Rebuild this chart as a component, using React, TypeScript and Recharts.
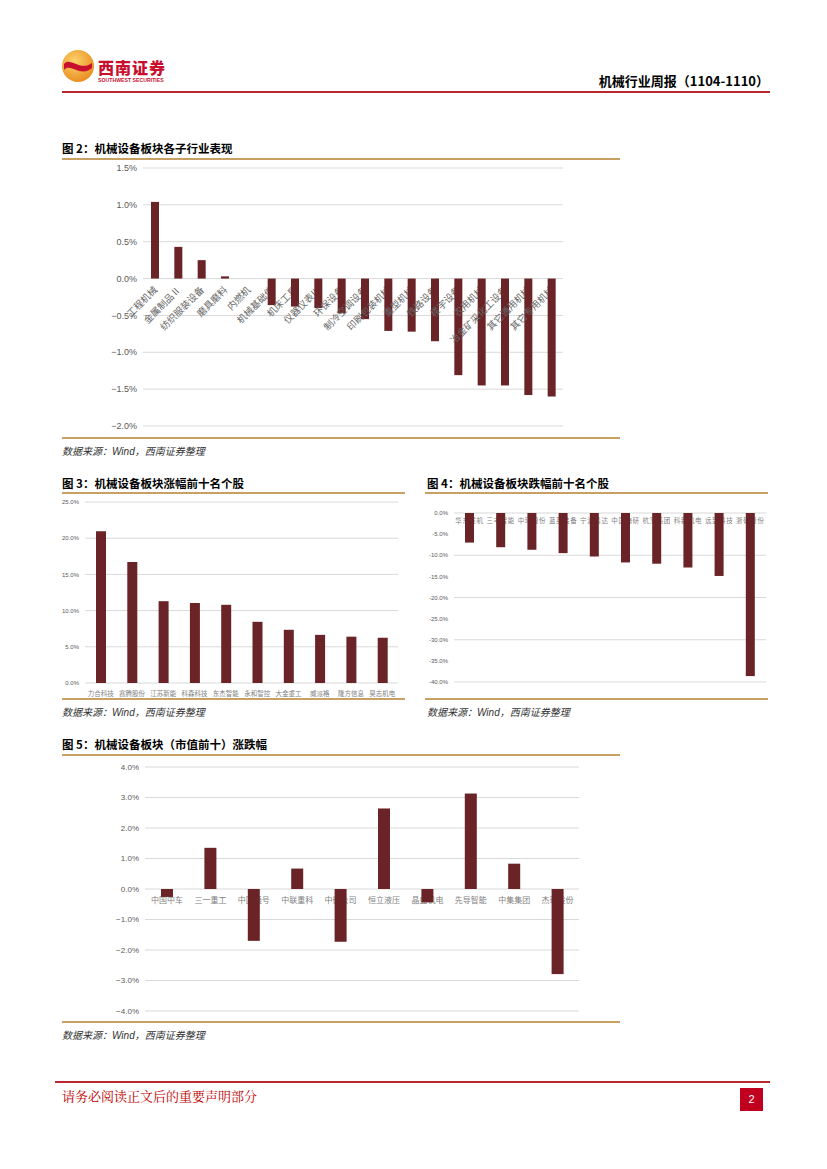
import React from "react";
import { Bar, BarChart, CartesianGrid, XAxis, YAxis } from "recharts";

// 图2 子行业
const subIndustries = ["工程机械", "金属制品Ⅱ", "纺织服装设备", "磨具磨料", "内燃机", "机械基础件", "机床工具", "仪器仪表Ⅲ", "环保设备", "制冷空调设备", "印刷包装机械", "重型机械", "铁路设备", "楼宇设备", "农用机械", "冶金矿采化工设备", "其它通用机械", "其它专用机械"];
const subIndustryChg = [1.04, 0.43, 0.25, 0.03, 0.0, -0.36, -0.38, -0.4, -0.47, -0.55, -0.71, -0.72, -0.85, -1.31, -1.45, -1.45, -1.58, -1.6];
const subTicks = [-2, -1.5, -1, -0.5, 0, 0.5, 1, 1.5];

// 图3 涨幅前十
const gainers = ["力合科技", "赛腾股份", "江苏新能", "科森科技", "东杰智能", "永和智控", "大金重工", "威派格", "隆方信息", "昊志机电"];
const gainerChg = [20.95, 16.7, 11.3, 11.05, 10.8, 8.45, 7.35, 6.65, 6.4, 6.25];
const gainTicks = [0, 5, 10, 15, 20, 25];

// 图4 跌幅前十
const losers = ["华东重机", "三丰智能", "中环股份", "蓝英装备", "宁波精达", "中国海研", "杭叉集团", "科新机电", "远望科技", "浙矿股份"];
const loserChg = [-7.0, -8.1, -8.7, -9.5, -10.3, -11.7, -12.0, -12.9, -14.9, -38.6];
const loseTicks = [-40, -35, -30, -25, -20, -15, -10, -5, 0];

// 图5 市值前十
const topCaps = ["中国中车", "三一重工", "中国通号", "中联重科", "中微公司", "恒立液压", "晶盛机电", "先导智能", "中集集团", "杰瑞股份"];
const topCapChg = [-0.26, 1.35, -1.7, 0.67, -1.73, 2.64, -0.44, 3.13, 0.83, -2.79];
const capTicks = [-4, -3, -2, -1, 0, 1, 2, 3, 4];

const BAR = "#6A2326";
const GRID = "#D9D9D9";
const TAN = "#C9A064";
const TICK = "#595959";
const CJK = '"Noto Sans CJK SC", sans-serif';

const toRows = (names: string[], vals: number[]) => names.map((name, i) => ({ name, value: vals[i] }));
const pct = (v: number) => (v < 0 ? "−" : "") + Math.abs(v).toFixed(1) + "%";
const pctDash = (v: number) => (v < 0 ? "-" : "") + Math.abs(v).toFixed(1) + "%";

// bar with its category label drawn at the zero line (label sits under the bar)
const ZeroLabelBar = (p: any) => {
  const { x, y, width, height, payload, mode } = p;
  const top = Math.min(y, y + height);
  const bottom = Math.max(y, y + height);
  const zero = payload.value >= 0 ? bottom : top;
  const cx = x + width / 2;
  let label = null;
  if (mode === "rot") {
    const ax = cx + 3;
    const ay = zero + 12;
    label = (
      <text x={ax} y={ay} textAnchor="end" fontSize={9.5} fill="#666" fontFamily={CJK} transform={`rotate(-45 ${ax} ${ay})`}>
        {payload.name}
      </text>
    );
  } else {
    const fs = mode === "small" ? 6.5 : 8;
    const dy = mode === "small" ? 10 : 14;
    label = (
      <text x={cx} y={zero + dy} textAnchor="middle" fontSize={fs} fill="#7F7F7F" fontFamily={CJK} letterSpacing={mode === "small" ? 0.6 : 0}>
        {payload.name}
      </text>
    );
  }
  return (
    <g>
      {label}
      <rect x={x} y={top} width={width} height={bottom - top} fill={BAR} />
    </g>
  );
};

const Title = ({ left, top, text }: { left: number; top: number; text: string }) => (
  <div style={{ position: "absolute", left, top, fontSize: 11.5, fontWeight: 700, color: "#000", fontFamily: CJK, whiteSpace: "nowrap" }}>{text}</div>
);
const Rule = ({ left, top, width, color = TAN, h = 2 }: any) => (
  <div style={{ position: "absolute", left, top, width, height: h, background: color }} />
);
const Source = ({ left, top }: { left: number; top: number }) => (
  <div style={{ position: "absolute", left, top, fontSize: 10, fontStyle: "italic", color: "#333", fontFamily: CJK, whiteSpace: "nowrap" }}>
    数据来源：<span style={{ fontFamily: '"Liberation Sans", sans-serif' }}>Wind</span>，西南证券整理
  </div>
);

export default function App() {
  const sub = toRows(subIndustries, subIndustryChg);
  const gain = toRows(gainers, gainerChg);
  const lose = toRows(losers, loserChg);
  const caps = toRows(topCaps, topCapChg);

  return (
    <div style={{ position: "absolute", left: 0, top: 0, width: 827, height: 1169, background: "#fff", fontFamily: CJK }}>
      {/* header */}
      <svg style={{ position: "absolute", left: 60, top: 48 }} width={36} height={36}>
        <defs>
          <radialGradient id="lg" cx="40%" cy="35%" r="70%">
            <stop offset="0%" stopColor="#FCD36B" />
            <stop offset="100%" stopColor="#E98A1E" />
          </radialGradient>
        </defs>
        <circle cx={18} cy={18} r={16} fill="url(#lg)" />
        <path d="M4 16 C10 8 20 24 32 15 L32 20 C20 30 10 14 4 22 Z" fill="#C8102E" />
      </svg>
      <div style={{ position: "absolute", left: 98, top: 59, fontSize: 16, lineHeight: 1, fontWeight: 900, color: "#C8102E", letterSpacing: 1, fontFamily: '"Noto Sans CJK SC", serif' }}>西南证券</div>
      <div style={{ position: "absolute", left: 98, top: 78, fontSize: 5.2, lineHeight: 1, fontWeight: 700, color: "#C8102E", fontFamily: '"Liberation Sans", sans-serif', whiteSpace: "nowrap" }}>SOUTHWEST SECURITIES</div>
      <div style={{ position: "absolute", right: 827 - 769, top: 71, fontSize: 13, fontWeight: 700, color: "#000", fontFamily: CJK }}>机械行业周报（1104-1110）</div>
      <Rule left={62} top={91} width={708} color="#B8282E" h={1.5} />

      {/* 图2 */}
      <Title left={62} top={140} text="图 2：机械设备板块各子行业表现" />
      <Rule left={62} top={158} width={558} />
      <div style={{ position: "absolute", left: 90, top: 160 }}>
        <BarChart width={490} height={280} data={sub} margin={{ top: 8, right: 17, left: 0, bottom: 14 }}>
          <CartesianGrid vertical={false} stroke={GRID} />
          <XAxis dataKey="name" hide />
          <YAxis domain={[-2, 1.5]} ticks={subTicks} tickFormatter={pct} width={53} axisLine={false} tickLine={false} tickMargin={0} tick={{ fontSize: 9, fill: TICK, fontFamily: '"Liberation Sans", sans-serif' }} />
          <Bar dataKey="value" barSize={8} isAnimationActive={false} shape={(p: any) => <ZeroLabelBar {...p} mode="rot" />} />
        </BarChart>
      </div>
      <Rule left={62} top={437} width={558} />
      <Source left={62} top={443} />

      {/* 图3 */}
      <Title left={62} top={475} text="图 3：机械设备板块涨幅前十名个股" />
      <Rule left={62} top={492} width={343} />
      <div style={{ position: "absolute", left: 60, top: 495 }}>
        <BarChart width={345} height={205} data={gain} margin={{ top: 7, right: 7, left: 0, bottom: 3 }}>
          <CartesianGrid vertical={false} stroke={GRID} />
          <XAxis dataKey="name" height={14} axisLine={false} tickLine={false} interval={0} tickMargin={2} tick={{ fontSize: 6.5, fill: "#7F7F7F", fontFamily: CJK }} />
          <YAxis domain={[0, 25]} ticks={gainTicks} tickFormatter={pctDash} width={25} axisLine={false} tickLine={false} tickMargin={0} tick={{ fontSize: 6, fill: TICK, fontFamily: '"Liberation Sans", sans-serif' }} />
          <Bar dataKey="value" fill={BAR} barSize={10} isAnimationActive={false} />
        </BarChart>
      </div>
      <Rule left={62} top={698} width={343} />
      <Source left={62} top={704} />

      {/* 图4 */}
      <Title left={427} top={475} text="图 4：机械设备板块跌幅前十名个股" />
      <Rule left={425} top={492} width={343} />
      <div style={{ position: "absolute", left: 425, top: 506 }}>
        <BarChart width={345} height={184} data={lose} margin={{ top: 7, right: 4, left: 0, bottom: 8 }}>
          <CartesianGrid vertical={false} stroke={GRID} />
          <XAxis dataKey="name" hide />
          <YAxis domain={[-40, 0]} ticks={loseTicks} tickFormatter={pctDash} width={29} axisLine={false} tickLine={false} tickMargin={0} tick={{ fontSize: 6, fill: TICK, fontFamily: '"Liberation Sans", sans-serif' }} />
          <Bar dataKey="value" barSize={9} isAnimationActive={false} shape={(p: any) => <ZeroLabelBar {...p} mode="small" />} />
        </BarChart>
      </div>
      <Rule left={425} top={698} width={343} />
      <Source left={427} top={704} />

      {/* 图5 */}
      <Title left={62} top={736} text="图 5：机械设备板块（市值前十）涨跌幅" />
      <Rule left={62} top={754} width={558} />
      <div style={{ position: "absolute", left: 60, top: 760 }}>
        <BarChart width={560} height={265} data={caps} margin={{ top: 7, right: 41, left: 0, bottom: 14 }}>
          <CartesianGrid vertical={false} stroke={GRID} />
          <XAxis dataKey="name" hide />
          <YAxis domain={[-4, 4]} ticks={capTicks} tickFormatter={pct} width={85} axisLine={false} tickLine={false} tickMargin={0} tick={{ fontSize: 8, fill: TICK, fontFamily: '"Liberation Sans", sans-serif' }} />
          <Bar dataKey="value" barSize={12} isAnimationActive={false} shape={(p: any) => <ZeroLabelBar {...p} mode="mid" />} />
        </BarChart>
      </div>
      <Rule left={62} top={1021} width={558} />
      <Source left={62} top={1027} />

      {/* footer */}
      <Rule left={55} top={1081} width={715} color="#B8282E" h={1.5} />
      <div style={{ position: "absolute", left: 62, top: 1086, fontSize: 13, color: "#C00000", fontFamily: '"Noto Serif CJK SC", "Noto Sans CJK SC", serif' }}>请务必阅读正文后的重要声明部分</div>
      <div style={{ position: "absolute", left: 740, top: 1088, width: 23, height: 23, background: "#C0001E", color: "#fff", fontSize: 11, textAlign: "center", lineHeight: "23px", fontFamily: '"Liberation Sans", sans-serif' }}>2</div>
    </div>
  );
}
